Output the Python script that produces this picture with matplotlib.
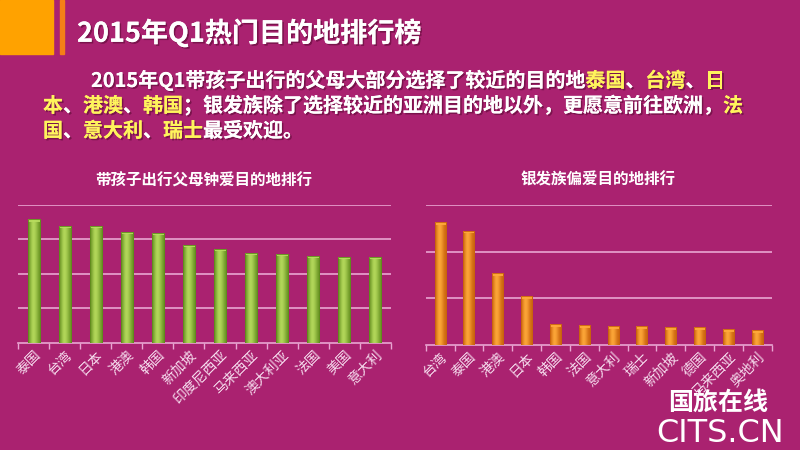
import numpy as np
import matplotlib
matplotlib.use('Agg')
import matplotlib.pyplot as plt
from matplotlib.patches import Rectangle
from matplotlib.colors import LinearSegmentedColormap
import matplotlib.patheffects as pe

plt.rcParams['font.family'] = ['Noto Sans CJK SC', 'DejaVu Sans']

# data (grid units)
kids_places = ['泰国', '台湾', '日本', '港澳', '韩国', '新加坡', '印度尼西亚',
               '马来西亚', '澳大利亚', '法国', '美国', '意大利']
kids_values = [3.58, 3.39, 3.39, 3.21, 3.18, 2.83, 2.71, 2.60, 2.57, 2.51, 2.48, 2.48]

senior_places = ['台湾', '泰国', '港澳', '日本', '韩国', '法国', '意大利', '瑞士',
                 '新加坡', '德国', '马来西亚', '奥地利']
senior_values = [2.63, 2.45, 1.54, 1.05, 0.44, 0.42, 0.40, 0.40, 0.38, 0.37, 0.34, 0.32]

title = '2015年Q1热门目的地排行榜'
left_title = '带孩子出行父母钟爱目的地排行'
right_title = '银发族偏爱目的地排行'

W = '#FFFFFF'
Y = '#FFF45C'
para_lines = [
    [('2015年Q1带孩子出行的父母大部分选择了较近的目的地', W), ('泰国', Y), ('、', W),
     ('台湾', Y), ('、', W), ('日', Y)],
    [('本', Y), ('、', W), ('港澳', Y), ('、', W), ('韩国', Y),
     ('；银发族除了选择较近的亚洲目的地以外，更愿意前往欧洲，', W), ('法', Y)],
    [('国', Y), ('、', W), ('意大利', Y), ('、', W), ('瑞士', Y), ('最受欢迎。', W)],
]

BG = '#AA2270'
GRID = '#E9A6D2'
LABEL = '#F6DDEE'

fig = plt.figure(figsize=(8, 4.5), dpi=100, facecolor=BG)

# header decoration
fig.patches.append(Rectangle((0, 1 - 54 / 450), 53 / 800, 54 / 450,
                             transform=fig.transFigure, color='#FFA200', zorder=0))
fig.patches.append(Rectangle((60 / 800, 1 - 54 / 450), 3.5 / 800, 54 / 450,
                             transform=fig.transFigure, color='#F57F17', zorder=0))

bg = fig.add_axes([0, 0, 1, 1])
bg.axis('off')
bg.set_xlim(0, 800)
bg.set_ylim(450, 0)

shadow = [pe.withSimplePatchShadow(offset=(1.2, -1.2), shadow_rgbFace='#5a0a35', alpha=0.6),
          pe.Normal()]

bg.text(77, 33, title, fontsize=19.5, fontweight='bold', color='white',
        va='center', ha='left', path_effects=shadow)

line_y = [91, 116, 141]
line_x = [91, 43, 43]
for ly, lx, parts in zip(line_y, line_x, para_lines):
    t = None
    for s, c in parts:
        if t is None:
            t = bg.text(lx, ly, s, fontsize=14.4, fontweight='bold', color=c,
                        va='bottom', ha='left', path_effects=shadow)
        else:
            t = bg.annotate(s, xy=(1, 0), xycoords=t, fontsize=14.4, fontweight='bold',
                            color=c, va='bottom', ha='left', path_effects=shadow)

bg.text(204, 180, left_title, fontsize=11.2, fontweight='bold', color='white',
        ha='center', va='center')
bg.text(598, 180, right_title, fontsize=11.2, fontweight='bold', color='white',
        ha='center', va='center')

# logo
bg.text(718, 403, '国旅在线', fontsize=18, fontweight='bold', color='white',
        ha='center', va='center')
bg.text(720, 434, 'CITS.CN', fontsize=23, color='white', ha='center', va='center',
        family='DejaVu Sans')


def shaded_bars(ax, values, width, dark, light):
    x = np.arange(len(values))
    bars = ax.bar(x, values, width, color=light, edgecolor=dark, linewidth=0.6, zorder=3)
    cmap = LinearSegmentedColormap.from_list('bar', [dark, light])
    grad = np.array([[0.15, 0.7, 1.0, 0.8, 0.45, 0.1]])
    for b in bars:
        x0, w, h = b.get_x(), b.get_width(), b.get_height()
        im = ax.imshow(grad, extent=[x0, x0 + w, 0, h], aspect='auto', cmap=cmap,
                       vmin=0, vmax=1, interpolation='bicubic', zorder=3)
        im.set_clip_path(b)
        ax.add_patch(Rectangle((x0, h - 0.06), w, 0.06, color=light, alpha=0.9,
                               lw=0, zorder=4))
        ax.add_patch(Rectangle((x0, 0), w, h, fill=False, edgecolor=dark, lw=0.6, zorder=5))


def style_axes(ax, labels, ymax):
    n = len(labels)
    ax.set_facecolor('none')
    ax.set_xlim(-0.5, n - 0.5)
    ax.set_ylim(0, ymax)
    ax.set_yticks(np.arange(1, ymax + 1))
    ax.set_yticklabels([])
    ax.tick_params(axis='y', length=0)
    ax.grid(axis='y', color=GRID, linewidth=1.2, zorder=0)
    ax.set_axisbelow(True)
    for s in ['top', 'right', 'left']:
        ax.spines[s].set_visible(False)
    ax.spines['bottom'].set_color(GRID)
    ax.spines['bottom'].set_linewidth(1.2)
    ax.set_xticks(np.arange(-0.5, n), [])
    ax.tick_params(axis='x', which='major', length=4, color=GRID, width=1)
    ax.set_xticks(np.arange(n), labels, minor=True)
    ax.tick_params(axis='x', which='minor', length=0, pad=4)
    for lab in ax.get_xticklabels(minor=True):
        lab.set_rotation(45)
        lab.set_ha('right')
        lab.set_va('top')
        lab.set_rotation_mode('anchor')
        lab.set_color(LABEL)
        lab.set_fontsize(10)


ax1 = fig.add_axes([18.3 / 800, 1 - 342.7 / 450, 372.4 / 800, 137.7 / 450])
shaded_bars(ax1, kids_values, 0.39, '#5F8A1C', '#B8DC5E')
style_axes(ax1, kids_places, 4)

ax2 = fig.add_axes([425.7 / 800, 1 - 344.7 / 450, 346 / 800, 139.7 / 450])
shaded_bars(ax2, senior_values, 0.38, '#C9620C', '#FFAA3A')
style_axes(ax2, senior_places, 3)

fig.savefig('out.png', dpi=100, facecolor=BG)
